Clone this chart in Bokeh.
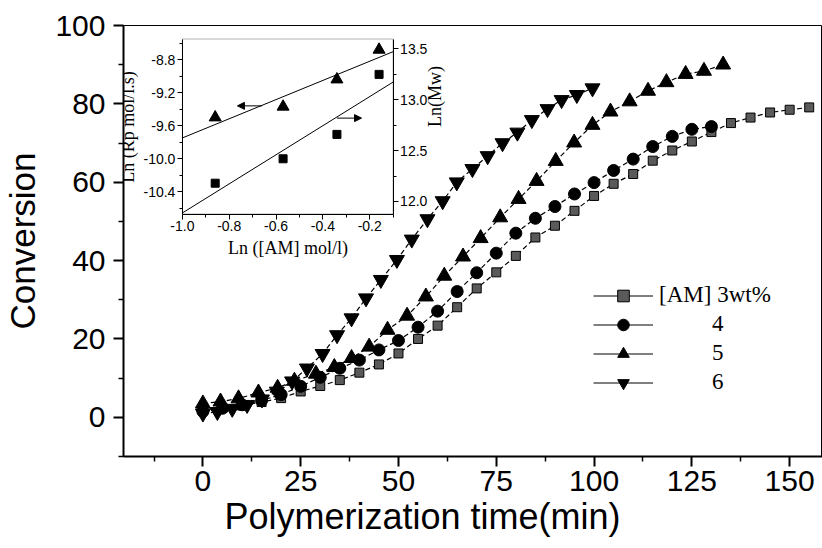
import math
import numpy as np
from bokeh.plotting import figure
from bokeh.models import (Range1d, LinearAxis, FixedTicker, NumeralTickFormatter, Legend,
                          LegendItem, BoxAnnotation, Arrow, NormalHead, Title)
from bokeh.embed import file_html
from bokeh.resources import INLINE

# ---------------- main chart data ----------------
t_3wt = [0, 5, 10, 15, 20, 25, 30, 35, 40, 45, 50, 55, 60, 65, 70, 75, 80, 85, 90, 95,
         100, 105, 110, 115, 120, 125, 130, 135, 140, 145, 150, 155]
conv_3wt = [2.0, 2.4, 3.0, 3.9, 4.9, 6.6, 8.0, 9.5, 11.4, 13.5, 16.3, 20.0, 23.4, 28.1, 32.9,
            37.0, 41.2, 45.9, 48.9, 52.7, 56.5, 59.6, 62.1, 65.5, 68.1, 70.4, 72.8, 75.1,
            76.5, 77.8, 78.5, 79.1]
t_4wt = [0, 5, 10, 15, 20, 25, 30, 35, 40, 45, 50, 55, 60, 65, 70, 75, 80, 85, 90, 95,
         100, 105, 110, 115, 120, 125, 130]
conv_4wt = [1.5, 2.3, 3.2, 4.3, 5.8, 7.9, 10.2, 12.5, 14.6, 17.2, 19.6, 23.0, 27.1, 32.1,
            36.9, 41.9, 47.0, 50.8, 53.8, 57.0, 59.9, 63.0, 65.9, 69.1, 71.7, 73.5, 74.2]
t_5wt = [0, 4.5, 9.1, 14.2, 19.1, 23.4, 28.9, 33.6, 38.0, 42.5, 47.2, 52.2, 57.0, 61.7,
         66.5, 71.0, 76.0, 80.7, 85.3, 90.2, 94.9, 99.6, 104.2, 109.1, 113.8, 118.5,
         123.4, 128.1, 133.0]
conv_5wt = [3.5, 4.0, 4.8, 6.3, 7.5, 9.3, 11.1, 12.8, 15.1, 18.0, 22.3, 25.9, 30.8, 36.1,
            41.0, 45.7, 51.0, 55.7, 60.3, 65.4, 70.1, 74.6, 78.0, 80.6, 83.3, 85.5, 87.6,
            88.4, 90.0]
t_6wt = [0, 3.7, 7.5, 11.3, 15.1, 18.9, 22.8, 26.6, 30.6, 34.3, 38.0, 41.7, 45.5, 49.6,
         53.4, 57.4, 61.3, 64.9, 68.9, 72.8, 76.6, 80.4, 84.1, 88.1, 91.7, 95.6, 99.6]
conv_6wt = [1.0, 1.4, 2.2, 3.2, 4.6, 6.6, 9.2, 12.5, 16.2, 21.0, 25.3, 30.4, 35.1, 40.2,
            45.4, 50.6, 55.2, 60.0, 63.4, 66.7, 70.0, 72.7, 75.9, 78.7, 81.0, 82.3, 84.0]
legend_labels = ["[AM] 3wt%", "4", "5", "6"]
x_ticks = [0, 25, 50, 75, 100, 125, 150]
x_minor_ticks = [-12.5, 12.5, 37.5, 62.5, 87.5, 112.5, 137.5]
y_ticks = [0, 20, 40, 60, 80, 100]
y_minor_ticks = [-10, 10, 30, 50, 70, 90]

# ---------------- inset data ----------------
ln_am = [-0.86, -0.57, -0.34, -0.16]
ln_rp = [-9.50, -9.37, -9.04, -8.68]
ln_mw = [12.18, 12.42, 12.66, 13.25]
inset_x_ticks = [-1.0, -0.8, -0.6, -0.4, -0.2]
inset_x_minor = [-0.9, -0.7, -0.5, -0.3, -0.1]
inset_yl_ticks = [-10.4, -10.0, -9.6, -9.2, -8.8]
inset_yl_minor = [-10.6, -10.2, -9.8, -9.4, -9.0, -8.6]
inset_yr_ticks = [12.0, 12.5, 13.0, 13.5]
inset_yr_minor = [12.25, 12.75, 13.25]
inset_x_extent = (-1.0, -0.1)
inset_yl_extent = (-10.67, -8.55)
inset_yr_extent = (11.877, 13.598)
# arrows (pointing to the axis each data set belongs to)
arrow_rp = dict(x_start=-0.66, x_end=-0.765, y=-9.36)
arrow_mw = dict(x_start=-0.34, x_end=-0.235, y=12.82)

# ---------------- layout (pixels) ----------------
W, H = 822, 548
FR_L, FR_R, FR_T, FR_B = 122, 822, 25, 456
IN_L, IN_R, IN_T, IN_B = 181, 392, 38.5, 213.5
X_MIN, X_MAX, Y_MIN, Y_MAX = -20.3, 158.4, -10, 100
XTITLE_LEFT = 223            # left edge of the x title, in pixels

SANS = "Liberation Sans"
SERIF = "Liberation Serif"

p = figure(width=W, height=H, x_range=Range1d(X_MIN, X_MAX), y_range=Range1d(Y_MIN, Y_MAX),
           output_backend="svg", toolbar_location=None,
           min_border_left=FR_L, min_border_right=W - FR_R,
           min_border_top=FR_T, min_border_bottom=H - FR_B)
p.xgrid.visible = False
p.ygrid.visible = False
p.outline_line_color = "black"
p.outline_line_width = 1
p.background_fill_color = "white"
p.border_fill_color = "white"

xa = p.xaxis[0]
ya = p.yaxis[0]
for ax in (xa, ya):
    ax.axis_line_width = 2
    ax.major_tick_line_width = 2
    ax.minor_tick_line_width = 1.5
    ax.major_tick_in = 0
    ax.minor_tick_in = 0
    ax.major_tick_out = 10
    ax.minor_tick_out = 5
    ax.major_label_text_font = SANS
    ax.major_label_text_font_size = "30px"
    ax.major_label_text_color = "black"
    ax.axis_line_color = "black"
    ax.major_tick_line_color = "black"
    ax.minor_tick_line_color = "black"
xa.ticker = FixedTicker(ticks=x_ticks, minor_ticks=x_minor_ticks)
ya.ticker = FixedTicker(ticks=y_ticks, minor_ticks=y_minor_ticks)
xa.major_label_standoff = 4
ya.major_label_standoff = 8
ya.axis_label = "Conversion"
ya.axis_label_text_font = SANS
ya.axis_label_text_font_size = "35px"
ya.axis_label_text_font_style = "normal"
ya.axis_label_text_color = "black"
ya.axis_label_standoff = 10

# x-axis title, set left of centre as in the original
p.add_layout(Title(text="Polymerization time(min)", align="left", offset=XTITLE_LEFT - FR_L,
                   standoff=0, text_font=SANS, text_font_size="36px",
                   text_font_style="normal", text_color="black"), "below")

# ---------------- main series ----------------
series = [
    (t_3wt, conv_3wt, "square", 9, "#5a5a5a"),
    (t_4wt, conv_4wt, "circle", 12, "black"),
    (t_5wt, conv_5wt, "triangle", 15, "black"),
    (t_6wt, conv_6wt, "inverted_triangle", 15, "black"),
]
legend_pairs = []
for t, v, mk, sz, fc in series:
    p.line(t, v, line_color="black", line_width=1.2, line_dash="5 3")
    sc = p.scatter(t, v, marker=mk, size=sz, fill_color=fc, line_color="black", line_width=1)
    proxy = p.line(t, v, line_color="black", line_width=1, visible=False)
    legend_pairs.append([proxy, sc])

common = dict(glyph_width=60, glyph_height=29, label_height=29, spacing=0, padding=0,
              margin=0, border_line_alpha=0, background_fill_alpha=0,
              label_text_font=SERIF, label_text_font_size="23px", label_text_color="black")
leg1 = Legend(items=[LegendItem(label=legend_labels[0], renderers=legend_pairs[0])],
              location=(592 - FR_L, FR_B - 309.5), label_standoff=6, **common)
leg2 = Legend(items=[LegendItem(label=legend_labels[i], renderers=legend_pairs[i])
                     for i in (1, 2, 3)],
              location=(592 - FR_L, FR_B - 396.5), label_standoff=59, **common)
p.add_layout(leg1)
p.add_layout(leg2)

# ---------------- inset (extra ranges mapped onto a sub-rectangle) ----------------
def extend(lo, hi, p_lo, p_hi, f_lo, f_hi):
    k = (hi - lo) / (p_hi - p_lo)
    return lo + (f_lo - p_lo) * k, lo + (f_hi - p_lo) * k

p.extra_x_ranges = {"ix": Range1d(*extend(*inset_x_extent, IN_L, IN_R, FR_L, FR_R))}
p.extra_y_ranges = {
    "iyl": Range1d(*extend(*inset_yl_extent, IN_B, IN_T, FR_B, FR_T)),
    "iyr": Range1d(*extend(*inset_yr_extent, IN_B, IN_T, FR_B, FR_T)),
}

p.add_layout(BoxAnnotation(left=inset_x_extent[0], right=inset_x_extent[1],
                           bottom=inset_yl_extent[0], top=inset_yl_extent[1],
                           x_range_name="ix", y_range_name="iyl",
                           fill_color="white", fill_alpha=1.0,
                           line_color="black", line_width=1, level="underlay"))

fit_x = list(inset_x_extent)
k_rp, b_rp = np.polyfit(ln_am, ln_rp, 1)
k_mw, b_mw = np.polyfit(ln_am, ln_mw, 1)
p.line(fit_x, [k_rp * x + b_rp for x in fit_x], line_color="black", line_width=1,
       x_range_name="ix", y_range_name="iyl")
p.line(fit_x, [k_mw * x + b_mw for x in fit_x], line_color="black", line_width=1,
       x_range_name="ix", y_range_name="iyr")
p.scatter(ln_am, ln_rp, marker="triangle", size=12, color="black",
          x_range_name="ix", y_range_name="iyl")
p.scatter(ln_am, ln_mw, marker="square", size=8, color="black",
          x_range_name="ix", y_range_name="iyr")

p.add_layout(Arrow(x_start=arrow_rp["x_start"], y_start=arrow_rp["y"],
                   x_end=arrow_rp["x_end"], y_end=arrow_rp["y"],
                   end=NormalHead(size=7, fill_color="black", line_color="black"),
                   line_width=1, x_range_name="ix", y_range_name="iyl"))
p.add_layout(Arrow(x_start=arrow_mw["x_start"], y_start=arrow_mw["y"],
                   x_end=arrow_mw["x_end"], y_end=arrow_mw["y"],
                   end=NormalHead(size=7, fill_color="black", line_color="black"),
                   line_width=1, x_range_name="ix", y_range_name="iyr"))

def style_inset_axis(ax):
    ax.axis_line_width = 1
    ax.major_tick_in = 0
    ax.minor_tick_in = 0
    ax.major_tick_out = 5
    ax.minor_tick_out = 3
    ax.major_label_text_font = SANS
    ax.major_label_text_font_size = "14px"
    ax.major_label_text_color = "black"
    ax.major_label_standoff = 2
    ax.axis_label_text_font = SERIF
    ax.axis_label_text_font_size = "18px"
    ax.axis_label_text_font_style = "normal"
    ax.axis_label_text_color = "black"
    ax.axis_label_standoff = 3
    ax.formatter = NumeralTickFormatter(format="0.0")

ax_b = LinearAxis(x_range_name="ix", y_range_name="iyl", fixed_location=inset_yl_extent[0],
                  bounds=inset_x_extent,
                  ticker=FixedTicker(ticks=inset_x_ticks, minor_ticks=inset_x_minor),
                  axis_label="Ln ([AM] mol/l)")
ax_l = LinearAxis(x_range_name="ix", y_range_name="iyl", fixed_location=inset_x_extent[0],
                  bounds=inset_yl_extent,
                  ticker=FixedTicker(ticks=inset_yl_ticks, minor_ticks=inset_yl_minor),
                  axis_label="Ln (Rp mol/l.s)")
ax_r = LinearAxis(x_range_name="ix", y_range_name="iyr", fixed_location=inset_x_extent[1],
                  bounds=inset_yr_extent,
                  ticker=FixedTicker(ticks=inset_yr_ticks, minor_ticks=inset_yr_minor),
                  axis_label="Ln(Mw)")
for ax in (ax_b, ax_l, ax_r):
    style_inset_axis(ax)
ax_r.axis_label_standoff = 4
ax_r.axis_label_orientation = math.pi / 2
p.add_layout(ax_b, "below")
p.add_layout(ax_l, "left")
p.add_layout(ax_r, "right")

open("out.html", "w").write(file_html(p, INLINE))
